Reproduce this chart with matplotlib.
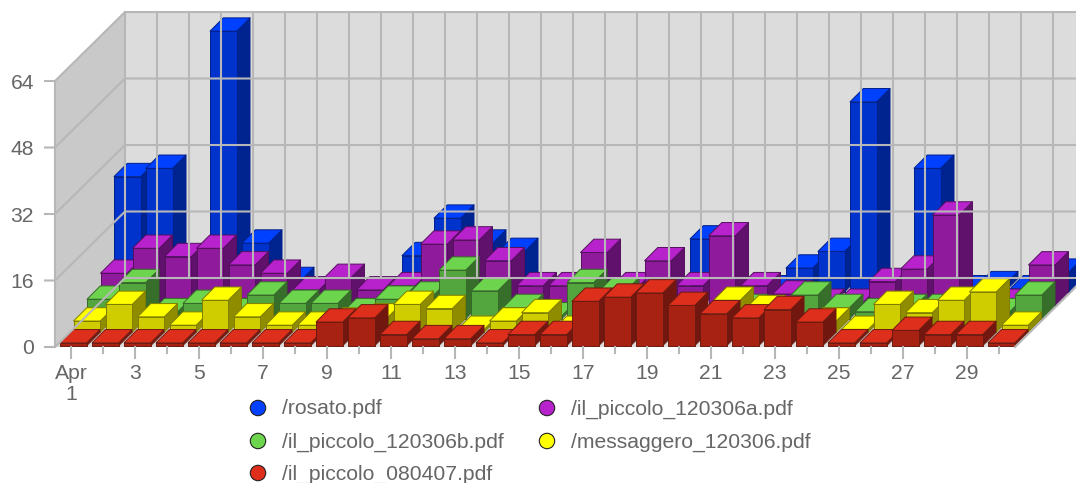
import matplotlib
matplotlib.use("Agg")
import matplotlib.pyplot as plt
from matplotlib.patches import Polygon, Circle

plt.rcParams['font.family'] = ['Liberation Sans', 'DejaVu Sans']

# ---------- data (rear series first) ----------
series_names = ["/rosato.pdf", "/il_piccolo_120306a.pdf", "/il_piccolo_120306b.pdf",
                "/messaggero_120306.pdf", "/il_piccolo_080407.pdf"]
rosato   = [28,30,0,63,12,3,0,0,0,9,18,12,10,0,0,0,0,0,13,0,1,6,10,46,0,30,1,2,1,5]
piccolo_a= [8,14,12,14,10,8,4,7,4,5,15,16,11,5,5,13,5,11,5,17,5,3,1,1,6,9,22,0,1,10]
piccolo_b= [5,9,2,4,2,6,4,4,2,5,6,12,7,3,1,9,7,0,0,0,3,0,6,3,2,3,3,0,2,6]
messagg  = [3,7,4,2,8,4,2,2,3,4,7,6,1,3,5,1,0,0,0,0,8,6,0,3,1,7,5,8,10,2]
piccolo_c= [1,1,1,1,1,1,1,1,6,7,3,2,2,1,3,3,11,12,13,10,8,7,9,6,1,1,4,3,3,1]
all_series = [rosato, piccolo_a, piccolo_b, messagg, piccolo_c]
y_ticks = [0, 16, 32, 48, 64]
x_labels = {1: "Apr\n1", 3: "3", 5: "5", 7: "7", 9: "9", 11: "11", 13: "13", 15: "15",
            17: "17", 19: "19", 21: "21", 23: "23", 25: "25", 27: "27", 29: "29"}

# top, front, side colours per series
face_colors = [("#0040ff", "#0033cc", "#00248f"),
               ("#b822cc", "#8f1a9c", "#5f116b"),
               ("#6dd44e", "#53a63d", "#376e29"),
               ("#ffff00", "#cfcc00", "#8f8c00"),
               ("#dd2f1c", "#a82214", "#721710")]
edge_colors = ["#001f8a", "#55105f", "#36692a", "#7f7d00", "#6e1a10"]
legend_dots = ["#0040ff", "#b822cc", "#6dd44e", "#ffff00", "#dd2f1c"]

# ---------- layout ----------
W, H = 1076, 483
X0, Y0 = 55, 347
DAY = 32.0
UNIT = 4.156
DEPTH_X, DEPTH_Y = 70, 69
STEP = 13.5
BAR_W, BAR_D = 26.7, 13.3
GRID = "#b7b7b7"
TEXT = "#666666"
FS = 15.2

fig = plt.figure(figsize=(W / 100, H / 100), dpi=100)
ax = fig.add_axes([0, 0, 1, 1])
ax.set_xlim(0, W)
ax.set_ylim(H, 0)
ax.axis("off")

def poly(pts, fc, ec="none", lw=0.0):
    ax.add_patch(Polygon(pts, closed=True, facecolor=fc, edgecolor=ec, linewidth=lw, joinstyle="round"))

right = X0 + 30 * DAY
vy = lambda v: Y0 - v * UNIT
# walls
poly([(X0, vy(64)), (X0 + DEPTH_X, vy(64) - DEPTH_Y), (X0 + DEPTH_X, Y0 - DEPTH_Y), (X0, Y0)], "#c9c9c9")
poly([(X0 + DEPTH_X, vy(64) - DEPTH_Y), (right + DEPTH_X, vy(64) - DEPTH_Y),
      (right + DEPTH_X, Y0 - DEPTH_Y), (X0 + DEPTH_X, Y0 - DEPTH_Y)], "#dcdcdc")
poly([(X0, Y0), (X0 + DEPTH_X, Y0 - DEPTH_Y), (right + DEPTH_X, Y0 - DEPTH_Y), (right, Y0)], "#dcdcdc")
# grid
lw = 1.5
for v in y_ticks:
    ax.plot([X0 - 10, X0, X0 + DEPTH_X, right + DEPTH_X],
            [vy(v), vy(v), vy(v) - DEPTH_Y, vy(v) - DEPTH_Y], color=GRID, lw=lw, solid_joinstyle="miter")
    ax.text(X0 - 21, vy(v), str(v), ha="right", va="center_baseline", fontsize=FS, color=TEXT)
ax.plot([X0, X0], [vy(64), Y0], color=GRID, lw=lw)
for d in range(0, 31):
    x = X0 + DEPTH_X + d * DAY
    ax.plot([x, x], [vy(64) - DEPTH_Y, Y0 - DEPTH_Y], color=GRID, lw=lw)
ax.plot([right, right + DEPTH_X], [Y0, Y0 - DEPTH_Y], color=GRID, lw=lw)
# x ticks
for d in range(1, 31):
    x = X0 + (d - 0.5) * DAY
    major = d in x_labels
    ax.plot([x, x], [Y0, Y0 + (11 if major else 6)], color=GRID, lw=lw)
    if major:
        ax.text(x, Y0 + 17, x_labels[d], ha="center", va="top", fontsize=FS,
                color=TEXT, linespacing=1.1)

# bars
for i, values in enumerate(all_series):
    k = 4 - i
    top, front, side = face_colors[i]
    ec = edge_colors[i]
    for d, v in enumerate(values):
        if v <= 0:
            continue
        x = X0 + 5 + d * DAY + k * STEP
        off = k * STEP
        yb = Y0 - 1.3 - off
        yt = Y0 - v * UNIT - off
        poly([(x + BAR_W, yb), (x + BAR_W + BAR_D, yb - BAR_D),
              (x + BAR_W + BAR_D, yt - BAR_D), (x + BAR_W, yt)], side, ec, 0.7)
        poly([(x, yt), (x + BAR_D, yt - BAR_D), (x + BAR_W + BAR_D, yt - BAR_D), (x + BAR_W, yt)], top, ec, 0.7)
        poly([(x, yb), (x + BAR_W, yb), (x + BAR_W, yt), (x, yt)], front, ec, 0.7)

# legend
legend_pos = [(258, 408), (547, 408), (258, 441), (547, 441), (258, 473)]
for (lx, ly), name, col in zip(legend_pos, series_names, legend_dots):
    ax.add_patch(Circle((lx, ly), 7.7, facecolor=col, edgecolor="#222222", linewidth=0.8))
    ax.text(lx + 24, ly + 1, name, ha="left", va="center", fontsize=FS, color=TEXT)

fig.savefig("out.png", dpi=100)
